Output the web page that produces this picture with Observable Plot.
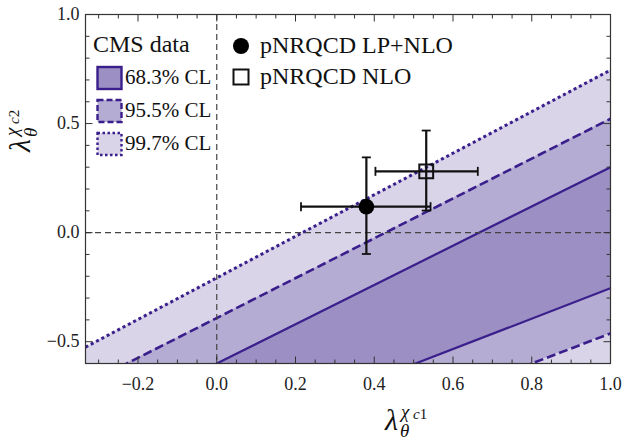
<!DOCTYPE html>
<html><head><meta charset="utf-8">
<script src="https://cdn.jsdelivr.net/npm/d3@7"></script>
<script src="https://cdn.jsdelivr.net/npm/@observablehq/plot@0.6"></script>
<style>
body{margin:0;background:#fff} #chart{width:623px;height:442px}
#chart svg text, #chart svg tspan { font-family: 'Liberation Serif', 'Times New Roman', serif !important; }
</style>
</head><body><div id="chart"></div>
<script>
// ---- data ----
const xDomain = [-1/3, 1];
const yDomain = [-0.6, 1.0];
// CL boundary lines: y value at x = -1/3 and at x = 1
const lineX = [-1/3, 1];
const upper997 = [-0.525, 0.745];
const lower997 = [-1.75, -0.72];
const upper955 = [-0.696, 0.522];
const lower955 = [-1.382, -0.462];
const upper683 = [-0.900, 0.300];
const lower683 = [-1.184, -0.255];

const modelNames = ["pNRQCD LP+NLO", "pNRQCD NLO"];
const modelX = [0.380, 0.532];
const modelY = [0.119, 0.281];
const modelXLo = [0.214, 0.403];
const modelXHi = [0.543, 0.663];
const modelYLo = [-0.098, 0.101];
const modelYHi = [0.345, 0.468];

const xTicks = [-0.2, 0.0, 0.2, 0.4, 0.6, 0.8, 1.0];
const yTicks = [-0.5, 0.0, 0.5, 1.0];
const xMinor = [-0.3,-0.25,-0.15,-0.1,-0.05,0.05,0.1,0.15,0.25,0.3,0.35,0.45,0.5,0.55,0.65,0.7,0.75,0.85,0.9,0.95];
const yMinor = [-0.4,-0.3,-0.2,-0.1,0.1,0.2,0.3,0.4,0.6,0.7,0.8,0.9];
const clLabels = ["68.3% CL", "95.5% CL", "99.7% CL"];
const cmsTitle = "CMS data";

// ---- styles ----
const c997 = "#d9d4e8", c955 = "#b4acd2", c683 = "#9b8fc3", lineC = "#3a1f8c";
const serif = "'Liberation Serif', 'Times New Roman', serif";

const band = (lo, hi) => lineX.map((x, i) => ({x, y1: lo[i], y2: hi[i]}));
const lineData = (ys) => lineX.map((x, i) => ({x, y: ys[i]}));
const models = modelNames.map((name, i) => ({name, x: modelX[i], y: modelY[i],
  xlo: modelXLo[i], xhi: modelXHi[i], ylo: modelYLo[i], yhi: modelYHi[i]}));

// custom line symbols (caps and ticks), half-length = r
const segSym = (dx1, dy1, dx2, dy2) => ({draw(ctx, size) {
  const r = Math.sqrt(size / Math.PI);
  ctx.moveTo(dx1 * r, dy1 * r); ctx.lineTo(dx2 * r, dy2 * r);
}});
const capH = segSym(-1, 0, 1, 0), capV = segSym(0, -1, 0, 1);
const tUp = segSym(0, 0, 0, -1), tDown = segSym(0, 0, 0, 1);
const tRight = segSym(0, 0, 1, 0), tLeft = segSym(0, 0, -1, 0);

const fmt = d => (d < 0 ? "\u2212" : "") + Math.abs(d).toFixed(1);
const tickMarks = (vals, len) => [
  Plot.dot(vals, {x: d => d, y: yDomain[0], symbol: tUp, r: len, stroke: "#333", strokeWidth: 1}),
  Plot.dot(vals, {x: d => d, y: yDomain[1], symbol: tDown, r: len, stroke: "#333", strokeWidth: 1})
];
const tickMarksY = (vals, len) => [
  Plot.dot(vals, {y: d => d, x: xDomain[0], symbol: tRight, r: len, stroke: "#333", strokeWidth: 1}),
  Plot.dot(vals, {y: d => d, x: xDomain[1], symbol: tLeft, r: len, stroke: "#333", strokeWidth: 1})
];
const lineOpts = (dash, w) => ({x: "x", y: "y", stroke: lineC, strokeWidth: w, strokeDasharray: dash,
  strokeLinecap: "butt", clip: true});

const chart = Plot.plot({
  width: 623, height: 442,
  marginLeft: 85, marginRight: 13, marginTop: 14, marginBottom: 79,
  style: `font-family: ${serif}; font-size: 18px; color: #222; background: white; overflow: visible;`,
  x: {domain: xDomain},
  y: {domain: yDomain},
  marks: [
    Plot.areaY(band(lower997, upper997), {x: "x", y1: "y1", y2: "y2", fill: c997, clip: true}),
    Plot.areaY(band(lower955, upper955), {x: "x", y1: "y1", y2: "y2", fill: c955, clip: true}),
    Plot.areaY(band(lower683, upper683), {x: "x", y1: "y1", y2: "y2", fill: c683, clip: true}),
    Plot.line(lineData(upper997), lineOpts("3,3", 3)),
    Plot.line(lineData(lower997), lineOpts("3,3", 3)),
    Plot.line(lineData(upper955), lineOpts("9,4", 2.6)),
    Plot.line(lineData(lower955), lineOpts("9,4", 2.6)),
    Plot.line(lineData(upper683), lineOpts(null, 2.2)),
    Plot.line(lineData(lower683), lineOpts(null, 2.2)),
    Plot.ruleX([0], {stroke: "#444", strokeWidth: 1.2, strokeDasharray: "6,4"}),
    Plot.ruleY([0], {stroke: "#444", strokeWidth: 1.2, strokeDasharray: "6,4"}),
    // error bars
    Plot.ruleY(models, {y: "y", x1: "xlo", x2: "xhi", stroke: "#111", strokeWidth: 2.2}),
    Plot.ruleX(models, {x: "x", y1: "ylo", y2: "yhi", stroke: "#111", strokeWidth: 2.2}),
    Plot.dot(models, {x: "xlo", y: "y", symbol: capV, r: 4.5, stroke: "#111", strokeWidth: 1.8}),
    Plot.dot(models, {x: "xhi", y: "y", symbol: capV, r: 4.5, stroke: "#111", strokeWidth: 1.8}),
    Plot.dot(models, {x: "x", y: "ylo", symbol: capH, r: 4.5, stroke: "#111", strokeWidth: 1.8}),
    Plot.dot(models, {x: "x", y: "yhi", symbol: capH, r: 4.5, stroke: "#111", strokeWidth: 1.8}),
    Plot.dot(models.slice(0, 1), {x: "x", y: "y", symbol: "circle", r: 7.8, fill: "#000", stroke: "none"}),
    Plot.dot(models.slice(1, 2), {x: "x", y: "y", symbol: "square", r: 7.8, fill: "none", stroke: "#111", strokeWidth: 2}),
    // frame + inward ticks
    ...tickMarks(xTicks, 7), ...tickMarks(xMinor, 4),
    ...tickMarksY(yTicks, 7), ...tickMarksY(yMinor, 4),
    Plot.frame({stroke: "#333", strokeWidth: 1.2}),
    Plot.axisX(xTicks, {tickSize: 0, tickPadding: 14, tickFormat: fmt, fontSize: 18, fontFamily: serif, fontVariant: "normal", fill: "#222"}),
    Plot.axisY(yTicks, {tickSize: 0, tickPadding: 6, tickFormat: fmt, fontSize: 18, fontFamily: serif, fontVariant: "normal", fill: "#222"})
  ]
});
document.getElementById("chart").append(chart);

// force serif font on all Plot-drawn text (tick labels)
const svg = d3.select(chart);
svg.selectAll("g").filter(function() { return this.getAttribute("font-family"); }).attr("font-family", serif);
svg.selectAll("text").attr("font-family", serif).style("font-family", serif);

// ---- legend and axis labels (SVG text) ----
const g = svg.append("g").style("font-family", serif).attr("fill", "#111").attr("text-anchor", "start");
g.append("text").attr("x", 93).attr("y", 52).style("font-size", "24px").text(cmsTitle);
const boxDash = ["none", "6,3", "2.5,2.5"];
const boxFill = [c683, c955, c997];
clLabels.forEach((lab, i) => {
  const y0 = 67 + i * 33;
  g.append("rect").attr("x", 97.5).attr("y", y0).attr("width", 24).attr("height", 22)
    .attr("fill", boxFill[i]).attr("stroke", lineC).attr("stroke-width", 2.4)
    .attr("stroke-dasharray", boxDash[i]);
  g.append("text").attr("x", 125).attr("y", y0 + 17).style("font-size", "21px").text(lab);
});
g.append("circle").attr("cx", 241).attr("cy", 46).attr("r", 8).attr("fill", "#000");
g.append("rect").attr("x", 233.5).attr("y", 69.5).attr("width", 15).attr("height", 15)
  .attr("fill", "none").attr("stroke", "#111").attr("stroke-width", 2);
g.append("text").attr("x", 260).attr("y", 53).style("font-size", "24px").text(modelNames[0]);
g.append("text").attr("x", 260).attr("y", 84).style("font-size", "24px").text(modelNames[1]);

// axis label builder  λ_θ^{χ_cN}
function lambdaLabel(parent, transform, n) {
  const l = parent.append("g").attr("transform", transform).style("font-style", "italic");
  l.append("text").attr("x", 0).attr("y", 0).style("font-size", "30px").text("λ");
  l.append("text").attr("x", 16).attr("y", -12).style("font-size", "19px").text("χ");
  l.append("text").attr("x", 28).attr("y", -11).style("font-size", "15px")
    .html("c<tspan style='font-style:normal'>" + n + "</tspan>");
  l.append("text").attr("x", 15).attr("y", 7).style("font-size", "19px").text("θ");
}
lambdaLabel(g, "translate(385,430)", "1");
lambdaLabel(g, "translate(30,152) rotate(-90)", "2");
</script>
</body></html>
